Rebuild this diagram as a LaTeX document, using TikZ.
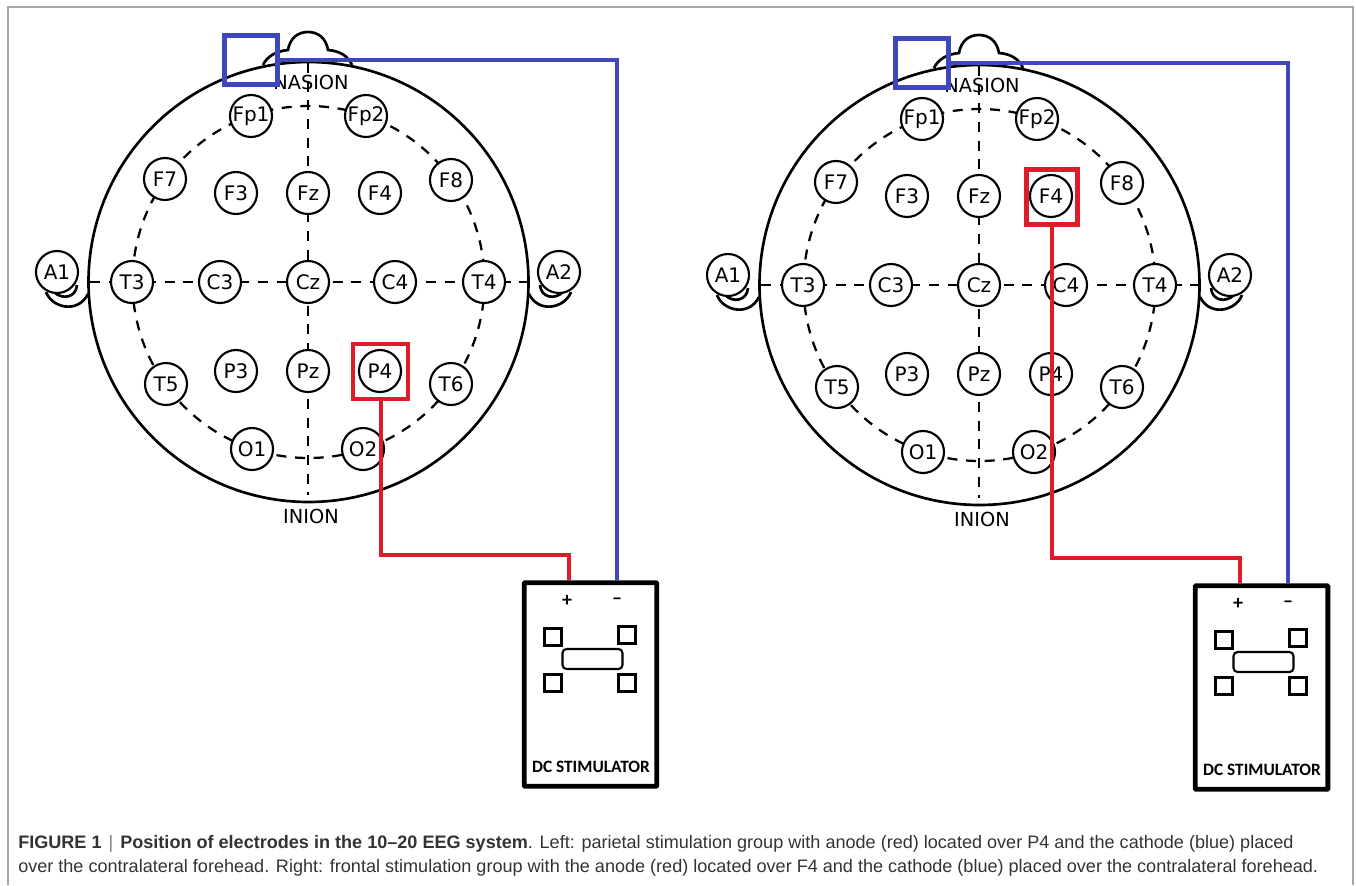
\documentclass[tikz,border=0pt]{standalone}
\usepackage{fontspec}
\setmainfont{Liberation Sans}
\newfontfamily\elecfont{DejaVu Sans}
\newfontfamily\stimfont{Carlito}
\usepackage{xcolor}
\usetikzlibrary{calc}
\definecolor{cathodeblue}{RGB}{62,72,186}
\definecolor{anodered}{RGB}{220,28,40}

\begin{document}
\begin{tikzpicture}[
    x=0.75pt, y=-0.75pt,
    elec/.style={draw, circle, fill=white, line width=1.6pt, minimum size=31.5pt, inner sep=0pt, font=\elecfont\fontsize{15}{15}\selectfont},
    skull/.style={line width=2pt},
    guide/.style={line width=1.7pt, dash pattern=on 7.5pt off 6.5pt},
    landmark/.style={inner sep=0pt, font=\elecfont\fontsize{14.5}{14.5}\selectfont},
    pad/.style={draw, line width=3.3pt, minimum width=40pt, minimum height=36.5pt, inner sep=0pt},
    anodepad/.style={pad, draw=anodered, minimum width=41pt, minimum height=41pt},
    wire/.style={line width=3pt},
    stimbox/.style={draw, line width=3.6pt, rounded corners=0.5pt, minimum width=99.5pt, minimum height=152.5pt, inner sep=0pt},
    socket/.style={draw, line width=1.9pt, minimum size=12.5pt, inner sep=0pt},
    lamp/.style={draw, line width=1.6pt, rounded corners=3pt, minimum width=45pt, minimum height=15pt, inner sep=0pt},
    pole/.style={inner sep=0pt, font=\stimfont\bfseries\fontsize{15}{15}\selectfont}
]
\useasboundingbox (0,0) rectangle (1356,885);

% page frame
\draw[gray!70, line width=0.9pt] (8,885) -- (8,7) -- (1353,7) -- (1353,885);

% the two heads
\foreach \side/\dx/\dy in {L/0/0, R/671/3} {
\begin{scope}[shift={(\dx,\dy)}]
    \draw[skull] (263,65) .. controls (267,56) and (277,51) .. (288,50)
        .. controls (290,38) and (298,32) .. (308,32)
        .. controls (318,32) and (326,38) .. (328,50)
        .. controls (340,51) and (348,56) .. (352,65);
    \draw[skull] (46,292) .. controls (52,308) and (78,314) .. (88,294);
    \draw[skull] (54,292) .. controls (62,300) and (76,298) .. (77,285);
    \draw[skull] (571,292) .. controls (565,308) and (539,314) .. (529,294);
    \draw[skull] (563,292) .. controls (555,300) and (541,298) .. (540,285);
    \draw[skull] (308.5,282) circle (220);
    \draw[guide] (308.5,282) circle (176);
    \draw[guide] (90,282) -- (527,282);
    \draw[guide] (308,63) -- (308,495);
    \node[landmark] (\side-nasion) at (311,82) {NASION};
    \node[landmark] (\side-inion) at (311,516) {INION};
    \foreach \name/\ex/\ey in {Fp1/251/116, Fp2/366/116, F7/165/179, F3/236/193, Fz/308/193, F4/380/193, F8/451/180,
        A1/57/272, T3/132/282, C3/220/282, Cz/308/282, C4/395/282, T4/484/282, A2/559/272,
        T5/166/384, P3/236/371, Pz/308/371, P4/380/371, T6/451/384, O1/252/449, O2/363/449}
        \node[elec] (\side-\name) at (\ex,\ey) {\name};
    % stimulator
    \node[stimbox] (\side-stim) at (590.5,684.5) {};
    \node[pole] (\side-plus) at (567,601) {+};
    \node[pole] (\side-minus) at (617,601) {–};
    \node[socket] (\side-sock1) at (553,637) {};
    \node[socket] (\side-sock2) at (627,635) {};
    \node[socket] (\side-sock3) at (553,683) {};
    \node[socket] (\side-sock4) at (627,683) {};
    \node[lamp] (\side-lamp) at (592.5,659) {};
    \node[inner sep=0pt, font=\stimfont\bfseries\fontsize{13}{13}\selectfont] (\side-label) at (591,767) {DC STIMULATOR};
    \node[pad, draw=cathodeblue] (\side-cathode) at (251,60) {};
    \coordinate (\side-bend) at (569,555);
\end{scope}
\draw[wire, cathodeblue] (\side-cathode.east) -| ($(\side-minus |- \side-stim.north)$);
}

% anodes
\node[anodepad] (L-anode) at (380.5,371.5) {};
\node[anodepad, minimum width=38.5pt] (R-anode) at (1052,197) {};
\draw[wire, anodered] (L-anode.south) -- (L-anode.south |- L-bend) -- (L-bend) -- (L-bend |- L-stim.north);
\draw[wire, anodered] (R-anode.south) -- (R-anode.south |- R-bend) -- (R-bend) -- (R-bend |- R-stim.north);

% caption
\node[anchor=north west, inner sep=0pt, align=left, font=\fontsize{13.55}{18}\selectfont, text=black!80] (caption) at (18,835)
    {\textbf{FIGURE 1}\hspace{1.5pt} {\color{black!50}|}\hspace{1.5pt} \textbf{Position of electrodes in the 10--20 EEG system}. Left: parietal stimulation group with anode (red) located over P4 and the cathode (blue) placed\\
    over the contralateral forehead. Right: frontal stimulation group with the anode (red) located over F4 and the cathode (blue) placed over the contralateral forehead.};
\end{tikzpicture}
\end{document}
